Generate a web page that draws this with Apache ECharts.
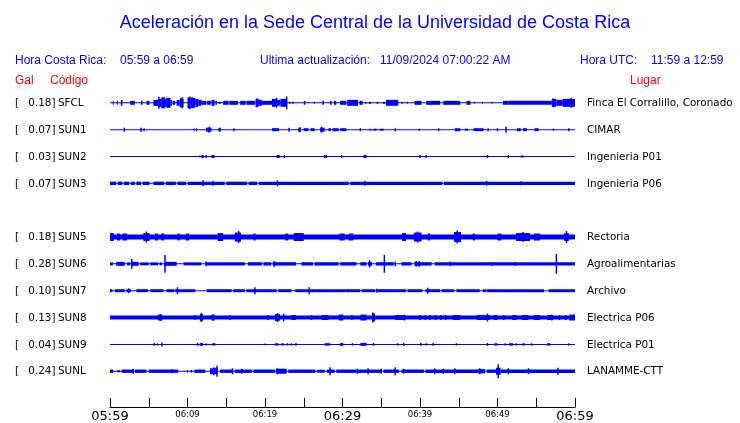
<!DOCTYPE html>
<html>
<head>
<meta charset="utf-8">
<script src="https://cdn.jsdelivr.net/npm/echarts@6/dist/echarts.min.js"></script>
<style>html,body{margin:0;padding:0;background:#fff}#c{width:740px;height:423px}</style>
</head>
<body>
<div id="c"></div>
<script>
// ---------- DATA ----------
const codes  = ['SFCL','SUN1','SUN2','SUN3','SUN5','SUN6','SUN7','SUN8','SUN9','SUNL'];
const galMax = ['0.18','0.07','0.03','0.07','0.18','0.28','0.10','0.13','0.04','0.24'];
const places = ['Finca El Corralillo, Coronado','CIMAR','Ingenieria P01','Ingenieria P06','Rectoria','Agroalimentarias','Archivo','Electrica P06','Electrica P01','LANAMME-CTT'];
const rowSlot = [0,1,2,3,5,6,7,8,9,10];           // slot 4 (SUN4) is empty
const tickLabels = ['05:59','06:09','06:19','06:29','06:39','06:49','06:59']; // every 10 min
const bigTicks = ['05:59','06:29','06:59'];

// envelope blocks [startMinute, endMinute, halfAmplitude] and spikes [minute, halfAmplitude]
const sfclSeg = [[0.35,0.45,2],[0.9,1.0,2],[1.4,1.6,3],[2.6,3.2,2],[4.0,4.2,2],[4.7,5.1,2],[5.6,6.2,3],
 [6.2,6.6,4],[6.6,7.0,5.5],[7.0,7.3,4],[7.3,7.8,5],[7.8,8.0,3],[8.1,8.4,2],[8.6,9.0,3],[9.0,9.5,4.5],
 [10.0,10.4,5.5],[10.4,11.0,5],[11.0,11.4,4],[11.4,11.8,3],[11.8,12.4,2],[12.5,13.0,2],[13.1,13.5,3],[13.6,13.8,2],[14.0,14.3,1],
 [14.6,15.3,2],[15.4,16.5,2],[16.8,17.5,2],[17.6,18.7,2],[18.8,19.2,4],[19.2,19.6,3],[19.6,20.9,2],
 [20.9,21.5,4],[21.5,22.0,3],[22.0,22.8,4],[23.1,23.3,1],[23.5,23.7,1],[25.0,25.2,2],[26.3,26.4,1],[27.4,27.6,2],[28.4,28.6,2],[28.9,29.2,2],[29.7,30.5,2],
 [30.6,32.0,3],[32.2,32.6,2],[32.9,33.1,1],[33.4,33.7,1],[34.4,34.6,1],[35.2,35.5,1],[35.6,37.2,3],[37.6,37.8,1],[38.3,38.4,1],[39.3,40.2,2],[40.8,42.6,2],[43.0,45.2,2],
 [46.0,46.5,2],[47.0,47.1,1],[48.0,48.1,1],[49.2,49.3,1],[50.7,51.4,2],[51.4,57.0,2],[57.0,57.6,4],[57.6,58.4,3],[58.4,60,4]];
const sfclSpk = [[6.3,6],[7.0,5.5],[7.4,5],[9.3,5.5],[10.3,6.5],[10.6,5.5],[18.9,4.5],[21.5,5],[22.8,6.5],[57.2,4.5],[59.5,5]];

const sun1Seg = [[3.9,4.1,2],[10.8,10.9,1.5],[11.1,11.2,1.5],[12.4,13.1,2],[14.0,14.3,2],[20.9,21.8,1.5],[24.3,24.6,2],[25.0,25.6,1.5],[25.9,26.4,1.5],
 [27.1,27.7,2],[28.2,28.5,1.5],[28.7,29.5,1.5],[29.7,30.5,1.5],[33.5,33.7,1],[34.0,34.4,1],[34.8,35.3,1],[44.5,45.2,1.5],[45.8,46.2,1],[46.9,48.2,1.5],
 [52.5,53.0,1.5],[53.3,53.8,1.5],[54.8,55.3,1.5]];
const sun1Spk = [[1.85,2],[4.4,1.5],[12.8,3],[16.0,1.5],[23.1,2],[24.5,2.5],[27.3,3],[32.3,1.5],[36.8,1.5],[39.9,1],[42.4,1.5],[48.8,1.5],[50.0,1.5],[51.1,3],[57.2,1],[59.2,1.5]];

const sun2Seg = [[11.8,12.1,1.5],[12.3,12.5,1.5],[13.1,13.5,1.5],[21.5,21.9,1.5],[32.7,33.1,1.5],[53.0,53.4,1]];
const sun2Spk = [[11.6,1],[22.5,1.5],[27.7,1.5],[27.9,1.5],[29.9,1.5],[40.0,1.5],[40.8,1.5],[48.7,1.5],[51.4,1.5]];

const sun3Seg = [[0,0.8,1.7],[1.0,1.6,1.7],[1.8,2.5,1.7],[2.7,3.2,1.7],[3.4,4.0,1.7],[4.2,5.1,1.7],[5.6,7.0,1.7],[7.2,8.5,1.7],[8.7,9.8,1.7],
 [10.0,14.8,1.7],[15.0,17.7,1.7],[17.9,19.0,1.7],[19.2,30.8,1.7],[31.0,42.9,1.7],[43.1,60,1.7]];
const sun3Spk = [[12.0,3],[13.3,2.5],[21.6,3],[32.9,2.5],[48.6,2.5],[53.0,2]];

const sun5Seg = [[0,60,2.6],[0,0.5,4],[0.9,1.3,3.5],[1.6,2.2,3.5],[4.3,5.1,4],[5.8,6.2,3.5],[6.6,7.0,3.5],[8.7,9.0,3.5],[9.8,10.2,3.5],[13.9,14.6,4],
 [16.1,16.9,4.5],[18.5,18.8,3.5],[22.6,23.0,3.5],[23.7,25.0,4],[29.6,30.3,3.5],[30.8,31.4,3.5],[37.7,38.2,4],[39.2,40.2,4.5],[41.0,41.3,3.5],
 [44.4,45.3,5],[46.8,47.1,3.5],[50.0,50.5,3.5],[52.4,54.2,4],[54.7,55.5,3.5],[58.6,59.2,4]];
const sun5Spk = [[4.7,5.5],[16.6,6],[39.7,5.5],[44.8,6.5],[53.3,5],[58.9,6]];

const sun6Seg = [[0,0.4,1.5],[0.8,1.9,2],[2.2,2.6,1.5],[2.7,3.7,2],[3.9,5.0,1.5],[5.2,6.2,1.5],[6.4,6.7,1.5],[7.0,8.6,2],[9.5,11.8,1.5],
 [12.3,17.4,1.7],[17.8,19.6,1.7],[19.8,20.8,1.7],[21.0,24.0,1.7],[24.7,26.2,1.7],[26.4,29.5,1.7],[29.7,31.8,1.7],[32.3,33.1,1.7],[33.3,33.8,2],
 [34.3,36.6,1.7],[37.6,38.9,1.7],[39.3,40.0,2],[40.0,41.5,1.7],[41.9,60,1.7]];
const sun6Spk = [[2.8,5],[7.1,9],[12.4,2.5],[21.2,3],[33.5,3.5],[35.4,9],[36.8,2.5],[39.5,3],[39.9,3],[43.9,2.5],[49.3,2],[52.3,2],[57.6,10]];

const sun7Seg = [[0,0.3,1.5],[0.65,1.9,1.5],[2.1,2.7,1.5],[3.4,4.9,1.5],[5.2,6.9,1.5],[7.3,8.3,1.5],[8.4,11.0,1.5],[12.5,15.7,1.5],[15.9,17.4,1.5],
 [17.6,18.7,1.5],[18.7,21.5,1.5],[21.7,23.4,1.5],[23.9,25.2,1.5],[25.2,30.4,1.5],[30.4,32.3,1.5],[32.5,34.2,1.5],[34.5,38.2,1.5],[38.4,40.3,1.5],
 [40.7,42.6,1.5],[42.8,44.4,1.5],[44.7,47.7,1.5],[48.1,48.5,1.5],[48.6,56.0,1.5],[56.6,60,1.5]];
const sun7Spk = [[2.4,2.5],[8.7,3.5],[18.7,3.5],[25.7,3.5],[34.4,2],[41.0,3]];

const sun8Seg = [[0,60,2],[6.2,6.75,3],[11.6,12.0,3.5],[13.1,13.5,3],[21.3,21.9,3.5],[23.4,24.0,2.5],[27.3,28.2,2.5],[29.5,30.1,3],[32.3,33.1,3],
 [33.8,34.2,4],[36.8,38.1,2.5],[44.2,45.2,2.5],[47.3,49.0,2.5],[49.5,50.0,2.5],[51.9,52.5,2.5],[53.1,54.0,2.5],[54.7,55.5,2.5],[56.4,57.2,2.5],[59.3,60,3]];
const sun8Spk = [[6.5,3.5],[11.0,2.5],[11.8,4.5],[13.3,3],[15.5,2.5],[20.4,2.5],[21.6,4.5],[22.4,4],[26.0,2.5],[31.2,2.5],[33.9,5],[38.0,3],
 [40.0,2.5],[40.7,2.5],[41.3,2.5],[42.0,2.5],[42.7,2.5],[43.3,2.5],[48.7,4],[50.8,2.5],[57.0,3],[58.0,2.5],[58.8,2.5]];

const sun9Seg = [[6.0,6.2,1],[11.6,12.0,1.5],[13.2,13.6,1.2],[21.3,21.7,1.2],[22.1,22.4,1.2],[27.7,28.4,1.2],[29.7,30.1,1.5],[32.3,33.1,1.5],
 [49.6,50.0,1.2],[51.5,52.0,1.2],[53.2,53.5,1.2],[56.4,56.8,1.2]];
const sun9Spk = [[5.7,1.5],[6.7,2],[11.3,1.5],[12.4,1.2],[20.0,1],[22.9,1.2],[23.4,1.2],[24.0,1.5],[31.3,1.2],[34.0,1.5],[37.1,1.2],[37.9,1.5],
 [40.1,1.5],[40.8,1.2],[41.7,1.5],[44.7,1.2],[48.7,1.5],[51.0,1.2],[52.4,1.2],[54.4,1.2],[59.2,1.2]];

const sunlSeg = [[0,0.4,1.7],[0.9,1.3,1],[1.5,3.0,1.7],[3.2,4.7,1.7],[5.0,8.8,1.7],[9.9,10.0,1.2],[10.4,10.6,1.2],[10.9,12.3,1.7],[12.9,13.9,3],
 [14.2,15.9,1.7],[16.1,18.3,1.7],[18.5,21.3,1.7],[21.4,22.8,2.5],[23.0,26.5,1.7],[26.7,27.7,1.5],[28.0,29.0,1.7],[29.2,31.8,1.7],[32.0,35.0,1.7],
 [35.3,37.3,1.7],[37.6,40.5,1.7],[40.7,47.5,1.7],[47.5,48.4,2.2],[48.6,49.8,1.7],[49.8,50.4,3.5],[50.4,60,1.7]];
const sunlSpk = [[3.0,2.5],[8.0,2],[13.4,4],[13.8,5.5],[15.8,3],[17.0,2.5],[21.6,3],[22.3,2.5],[28.4,4],[31.9,2.5],[33.3,3],[35.0,2.5],[36.8,4],
 [37.9,2.5],[41.9,3],[43.0,2.5],[44.5,3],[47.7,3],[50.1,7],[51.4,3],[54.0,3],[57.8,3.5]];

const allSeg = [sfclSeg,sun1Seg,sun2Seg,sun3Seg,sun5Seg,sun6Seg,sun7Seg,sun8Seg,sun9Seg,sunlSeg];
const allSpk = [sfclSpk,sun1Spk,sun2Spk,sun3Spk,sun5Spk,sun6Spk,sun7Spk,sun8Spk,sun9Spk,sunlSpk];

// ---------- BUILD ----------
const GAP = 27;            // vertical offset between trace slots (axis units)
const BLUE = '#0000ff', RED = '#ff0000';
const segData = [], spkData = [];
rowSlot.forEach((s, i) => {
  const yb = s * GAP;
  segData.push([0, 60, yb, 0.5]);               // trace baseline
  allSeg[i].forEach(d => segData.push([d[0], d[1], yb, d[2]]));
  allSpk[i].forEach(d => spkData.push([d[0], yb, d[1]]));
});

function renderSeg(params, api) {
  const yb = api.value(2), a = api.value(3);
  const p0 = api.coord([api.value(0), yb - a]);
  const p1 = api.coord([api.value(1), yb + a]);
  const x = Math.min(p0[0], p1[0]), w = Math.max(Math.abs(p1[0] - p0[0]), 1);
  const y = Math.min(p0[1], p1[1]), h = Math.max(Math.abs(p1[1] - p0[1]), 1);
  return { type: 'rect', shape: { x, y, width: w, height: h }, style: { fill: BLUE } };
}
function renderSpk(params, api) {
  const yb = api.value(1), a = api.value(2);
  const p0 = api.coord([api.value(0), yb - a]);
  const p1 = api.coord([api.value(0), yb + a]);
  const y = Math.min(p0[1], p1[1]), h = Math.abs(p1[1] - p0[1]);
  return { type: 'rect', shape: { x: p0[0] - 0.75, y, width: 1.5, height: h }, style: { fill: BLUE } };
}

const chart = echarts.init(document.getElementById('c'), null, { renderer: 'canvas' });
const option = {
  animation: false,
  backgroundColor: '#fff',
  grid: { left: 110, right: 165, top: 76, bottom: 14 },
  xAxis: {
    type: 'value', min: 0, max: 60, interval: 5, position: 'bottom',
    axisLine: { onZero: false, lineStyle: { color: '#000', width: 1 } },
    axisTick: { inside: true, length: 9, lineStyle: { color: '#000' } },
    splitLine: { show: false },
    axisLabel: {
      margin: 3, verticalAlign: 'top', color: '#000', fontFamily: 'DejaVu Sans',
      showMinLabel: true, showMaxLabel: true,
      formatter: v => {
        if (v % 10 !== 0) return '';
        const t = tickLabels[v / 10];
        return bigTicks.indexOf(t) >= 0 ? '{big|' + t + '}' : '{small|' + t + '}';
      },
      rich: {
        big: { fontSize: 13, fontFamily: 'DejaVu Sans', color: '#000' },
        small: { fontSize: 8.5, fontFamily: 'DejaVu Sans', color: '#000' }
      }
    }
  },
  yAxis: { type: 'value', inverse: true, min: -GAP, max: GAP * 34 / 3, show: false, splitLine: { show: false } },
  series: [
    { type: 'custom', renderItem: renderSeg, data: segData, encode: { x: [0, 1], y: 2 }, silent: true },
    { type: 'custom', renderItem: renderSpk, data: spkData, encode: { x: 0, y: 1 }, silent: true }
  ]
};
chart.setOption(option);

// ---------- TEXT ----------
const g = [];
const sans = 'Liberation Sans, Arial, sans-serif';
function txt(x, y, text, color, size, family, align) {
  g.push({ type: 'text', x, y, silent: true,
    style: { text, fill: color, fontSize: size, fontFamily: family, align: align || 'left', verticalAlign: 'middle' } });
}
txt(375, 23, 'Aceleración en la Sede Central de la Universidad de Costa Rica', BLUE, 18, sans, 'center');
txt(15, 60.5, 'Hora Costa Rica:', BLUE, 12, sans);
txt(120, 60.5, '05:59 a 06:59', BLUE, 12, sans);
txt(260, 60.5, 'Ultima actualización:', BLUE, 12, sans);
txt(380, 60.5, '11/09/2024 07:00:22 AM', BLUE, 12, sans);
txt(580, 60.5, 'Hora UTC:', BLUE, 12, sans);
txt(651, 60.5, '11:59 a 12:59', BLUE, 12, sans);
txt(15, 80.5, 'Gal', RED, 12, sans);
txt(50, 80.5, 'Código', RED, 12, sans);
txt(630, 80.5, 'Lugar', RED, 12, sans);

rowSlot.forEach((s, i) => {
  const y = chart.convertToPixel({ yAxisIndex: 0 }, s * GAP) + 0.5;
  txt(15, y, '[', '#000', 10.4, 'DejaVu Sans');
  txt(55.5, y, galMax[i] + ']', '#000', 10.4, 'DejaVu Sans', 'right');
  txt(58, y, codes[i], '#000', 10.4, 'DejaVu Sans');
  txt(587, y, places[i], '#000', 10.4, 'DejaVu Sans');
});
chart.setOption({ graphic: g });
</script>
</body>
</html>
